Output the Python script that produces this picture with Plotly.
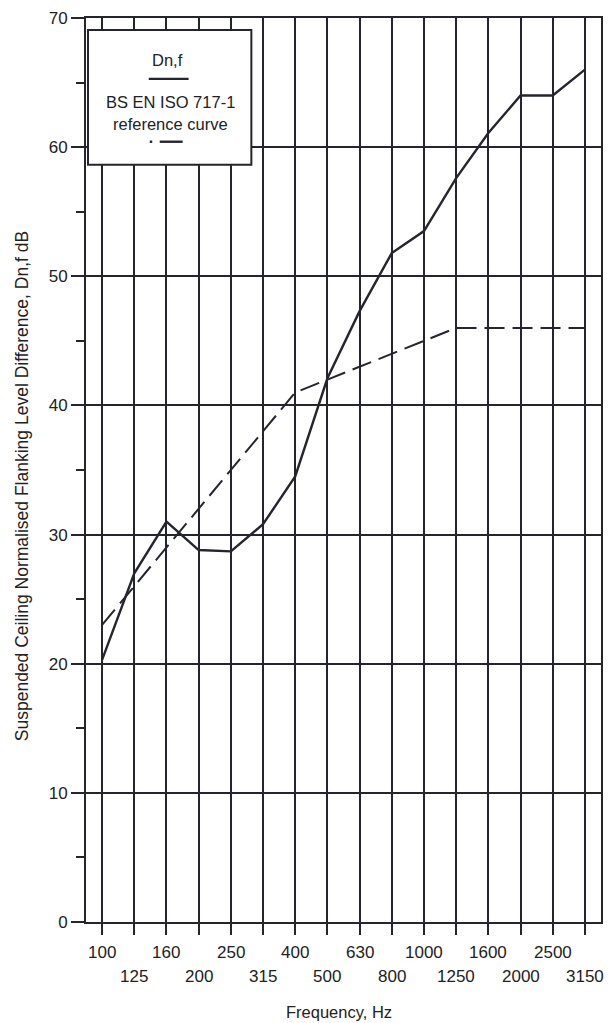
import plotly.graph_objects as go

# ---- data ----
freq_labels = ["100", "125", "160", "200", "250", "315", "400", "500", "630",
               "800", "1000", "1250", "1600", "2000", "2500", "3150"]
dnf_values = [20.3, 27.0, 31.0, 28.8, 28.7, 30.8, 34.5, 42.1, 47.3,
              51.8, 53.5, 57.6, 61.1, 64.0, 64.0, 66.0]
reference_curve = [23, 26, 29, 32, 35, 38, 41, 42, 43,
                   44, 45, 46, 46, 46, 46, 46]
y_ticks = [0, 10, 20, 30, 40, 50, 60, 70]

# ---- layout geometry (pixels) ----
W, H = 612, 1023
L, R, T, B = 86, 9, 16, 101
PW, PH = W - L - R, H - T - B

def px(xp):
    return (xp - L) / PW

def py(yp):
    return (H - B - yp) / PH

INK = "#25252e"
FONT = "Liberation Sans, Arial, sans-serif"

idx = list(range(len(freq_labels)))

fig = go.Figure()
fig.add_trace(go.Scatter(x=idx, y=reference_curve, mode="lines",
                         line=dict(color=INK, width=2, dash="20px,8px"),
                         showlegend=False, name="BS EN ISO 717-1 reference curve"))
fig.add_trace(go.Scatter(x=idx, y=dnf_values, mode="lines",
                         line=dict(color=INK, width=2.4),
                         showlegend=False, name="Dn,f"))

fig.update_xaxes(range=[-0.5, len(freq_labels) - 0.5], tickvals=idx,
                 showticklabels=False, ticks="outside", ticklen=11,
                 tickwidth=2, tickcolor=INK,
                 showgrid=True, gridcolor=INK, gridwidth=2,
                 showline=True, linecolor=INK, linewidth=2, mirror=True,
                 zeroline=False, fixedrange=True)
fig.update_yaxes(range=[0, 70], tickvals=y_ticks, ticks="outside", ticklen=13,
                 tickwidth=1.5, tickcolor=INK,
                 tickfont=dict(size=17, color="#222", family=FONT),
                 showgrid=True, gridcolor=INK, gridwidth=1.5,
                 showline=True, linecolor=INK, linewidth=2, mirror=True,
                 zeroline=False, fixedrange=True,
                 minor=dict(dtick=5, ticks="outside", ticklen=8,
                            tickwidth=1.5, tickcolor=INK, showgrid=False))

annotations = []
# staggered frequency labels
for i, lab in enumerate(freq_labels):
    yy = 953 if i % 2 == 0 else 977
    annotations.append(dict(x=i, y=py(yy), xref="x", yref="paper", text=lab,
                            showarrow=False, xanchor="center", yanchor="middle",
                            font=dict(size=17, color="#222", family=FONT)))
# axis titles
annotations.append(dict(x=px(340), y=py(1012), xref="paper", yref="paper",
                        text="Frequency, Hz", showarrow=False,
                        xanchor="center", yanchor="middle",
                        font=dict(size=16.5, color="#222", family=FONT)))
annotations.append(dict(x=px(22), y=py(485), xref="paper", yref="paper",
                        text="Suspended Ceiling Normalised Flanking Level Difference, Dn,f dB",
                        textangle=-90, showarrow=False,
                        xanchor="center", yanchor="middle",
                        font=dict(size=17.5, color="#222", family=FONT)))
# legend texts
annotations.append(dict(x=px(168), y=py(58), xref="paper", yref="paper",
                        text="Dn,f", showarrow=False, xanchor="center", yanchor="middle",
                        font=dict(size=16.5, color="#222", family=FONT)))
annotations.append(dict(x=px(171), y=py(100), xref="paper", yref="paper",
                        text="BS EN ISO 717-1", showarrow=False,
                        xanchor="center", yanchor="middle",
                        font=dict(size=16.5, color="#222", family=FONT)))
annotations.append(dict(x=px(171), y=py(122), xref="paper", yref="paper",
                        text="reference curve", showarrow=False,
                        xanchor="center", yanchor="middle",
                        font=dict(size=16.5, color="#222", family=FONT)))

shapes = [
    dict(type="rect", xref="paper", yref="paper", x0=px(88), x1=px(252),
         y0=py(163), y1=py(28), fillcolor="white",
         line=dict(color=INK, width=2), layer="above"),
    dict(type="line", xref="paper", yref="paper", x0=px(149), x1=px(189),
         y0=py(77), y1=py(77), line=dict(color=INK, width=2.4), layer="above"),
    dict(type="line", xref="paper", yref="paper", x0=px(150), x1=px(152.5),
         y0=py(140), y1=py(140), line=dict(color=INK, width=2.4), layer="above"),
    dict(type="line", xref="paper", yref="paper", x0=px(160), x1=px(183),
         y0=py(140), y1=py(140), line=dict(color=INK, width=2.4), layer="above"),
]

fig.update_layout(width=W, height=H,
                  margin=dict(l=L, r=R, t=T, b=B, pad=0),
                  paper_bgcolor="white", plot_bgcolor="white",
                  font=dict(family=FONT, color="#222"),
                  annotations=annotations, shapes=shapes, showlegend=False)

fig.write_html("out.html", config={"displayModeBar": False},
               post_script="document.body.style.margin='0';document.body.style.padding='0';")
